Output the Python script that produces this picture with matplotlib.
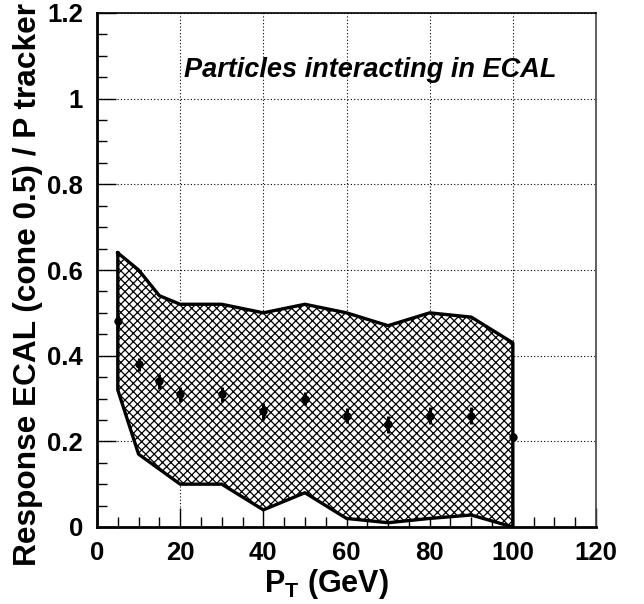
#!/usr/bin/env python3
import numpy as np
import matplotlib
matplotlib.use("Agg")
import matplotlib.pyplot as plt
from matplotlib.ticker import MultipleLocator

plt.rcParams['font.family'] = ['Liberation Sans', 'DejaVu Sans']
plt.rcParams['font.weight'] = 'bold'
plt.rcParams['mathtext.fontset'] = 'custom'
plt.rcParams['mathtext.rm'] = 'Liberation Sans:bold'
plt.rcParams['mathtext.bf'] = 'Liberation Sans:bold'
plt.rcParams['hatch.linewidth'] = 0.9

# data
pt = [5, 10, 15, 20, 30, 40, 50, 60, 70, 80, 90, 100]
response = [0.48, 0.38, 0.34, 0.31, 0.31, 0.27, 0.30, 0.26, 0.24, 0.26, 0.26, 0.21]
response_err = [0.015, 0.015, 0.018, 0.018, 0.018, 0.02, 0.015, 0.018, 0.02, 0.02, 0.02, 0.01]
band_high = [0.64, 0.60, 0.54, 0.52, 0.52, 0.50, 0.52, 0.50, 0.47, 0.50, 0.49, 0.43]
band_low = [0.32, 0.17, 0.135, 0.10, 0.10, 0.04, 0.08, 0.02, 0.01, 0.02, 0.028, 0.0]

W, H = 644, 604
fig = plt.figure(figsize=(W / 100, H / 100), dpi=100)
ax = fig.add_axes([97 / W, 1 - 527 / H, (596 - 97) / W, (527 - 13) / H])

# hatched band with thick outline
xs = np.concatenate([pt, pt[::-1]])
ys = np.concatenate([band_high, band_low[::-1]])
ax.fill(xs, ys, facecolor='white', edgecolor='black', hatch='xxxx', linewidth=0, zorder=2)
ax.plot(xs.tolist() + [xs[0]], ys.tolist() + [ys[0]], color='black', lw=2.4, zorder=3)

ax.errorbar(pt, response, yerr=response_err, fmt='o', color='black', ms=5,
            elinewidth=2.2, capsize=0, zorder=4)

ax.set_xlim(0, 120)
ax.set_ylim(0, 1.2)
ax.xaxis.set_major_locator(MultipleLocator(20))
ax.xaxis.set_minor_locator(MultipleLocator(5))
ax.yaxis.set_minor_locator(MultipleLocator(0.05))
ax.set_yticks([0, 0.2, 0.4, 0.6, 0.8, 1.0, 1.2])
ax.set_yticklabels(['0', '0.2', '0.4', '0.6', '0.8', '1', '1.2'])
ax.grid(True, which='major', color='black', linestyle=(0, (1, 2)), linewidth=0.8, zorder=1)
ax.tick_params(which='both', direction='in', top=False, right=False, labelsize=18.5)
ax.tick_params(axis='x', pad=10)
ax.tick_params(axis='y', pad=10)
ax.tick_params(which='major', length=14, width=1)
ax.tick_params(which='minor', length=7, width=1)
for lab in ax.get_xticklabels() + ax.get_yticklabels():
    lab.set_fontweight('bold')

ax.spines['left'].set_linewidth(2)
ax.spines['bottom'].set_linewidth(2)
ax.spines['right'].set_linewidth(1.2)
ax.spines['top'].set_linewidth(1.2)
ax.spines['right'].set_color('#444444')

ax.text((184 - 97) / 499, (527 - 70) / 514, 'Particles interacting in ECAL',
        transform=ax.transAxes, fontsize=19.5, fontstyle='italic', fontweight='bold',
        ha='left', va='center')

fig.text(326 / W, 1 - 584 / H, r'P$_\mathrm{T}$ (GeV)', fontsize=22, fontweight='bold',
         ha='center', va='center')
fig.text(28 / W, 1 - 284 / H, 'Response ECAL (cone 0.5) / P tracker', fontsize=22.8,
         fontweight='bold', rotation=90, ha='center', va='center')

fig.savefig('out.png', dpi=100)
